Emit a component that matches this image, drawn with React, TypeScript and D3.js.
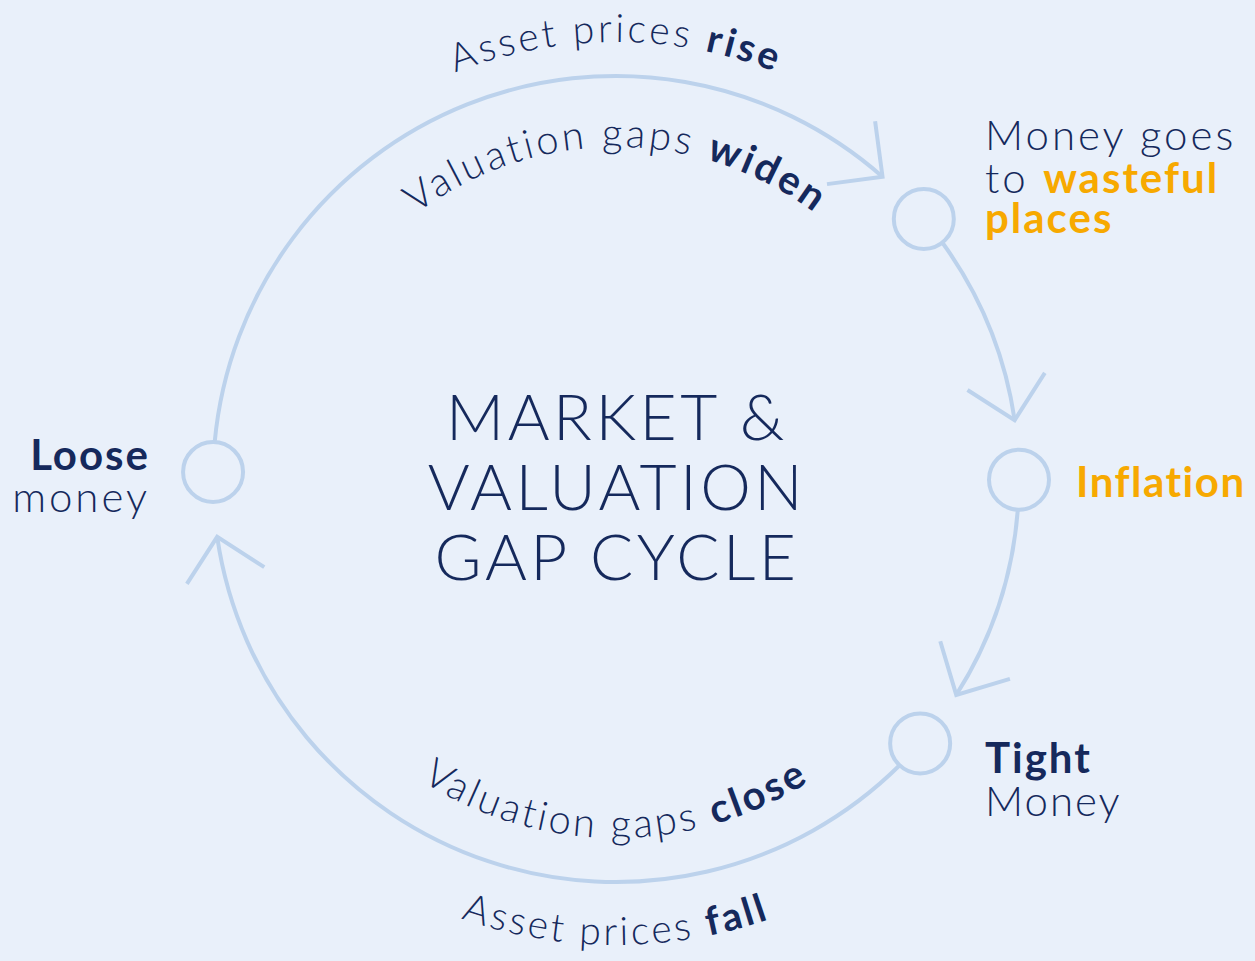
import React from 'react';
import * as d3 from 'd3';

const W = 1255;
const H = 961;

// Cycle geometry
const CX = 616;
const CY = 479;
const R = 403;
const NODE_R = 30;

// Nodes of the cycle (angle: degrees clockwise from 12 o'clock)
const nodeNames = ['Loose money', 'Money goes to wasteful places', 'Inflation', 'Tight Money'];
const nodeAngles = [271, 49.8, 90.1, 131];
// Arrow tip angle of the arc that leaves each node
const arrowTipAngles = [401.4, 81.6, 122.4, 261.75];

// Curved captions
const topOuter = [{ t: 'Asset prices ', b: false }, { t: 'rise', b: true }];
const topInner = [{ t: 'Valuation gaps ', b: false }, { t: 'widen', b: true }];
const bottomInner = [{ t: 'Valuation gaps ', b: false }, { t: 'close', b: true }];
const bottomOuter = [{ t: 'Asset prices ', b: false }, { t: 'fall', b: true }];

const titleLines = ['MARKET &', 'VALUATION', 'GAP CYCLE'];

const BG = '#e9f0fa';
const LINE = '#bcd2ec';
const NAVY = '#15295c';
const ORANGE = '#f7a900';
const FONT = 'Lato, "Open Sans", sans-serif';

const rad = (d: number) => (d * Math.PI) / 180;
const polar = (deg: number, r: number): [number, number] => [
  CX + r * Math.sin(rad(deg)),
  CY - r * Math.cos(rad(deg)),
];

function arcPath(a0: number, a1: number, r: number, ccw = false) {
  const p = d3.path();
  p.arc(CX, CY, r, rad(a0 - 90), rad(a1 - 90), ccw);
  return p.toString();
}

const GAP = (NODE_R / R) * (180 / Math.PI);
const ARM = 56;
const HALF = 45;
const TILT = 4;

function arrowHead(tipDeg: number) {
  const [tx, ty] = polar(tipDeg, R);
  const back = rad(tipDeg) + Math.PI - rad(TILT);
  const a1 = back + rad(HALF);
  const a2 = back - rad(HALF);
  const p = d3.path();
  p.moveTo(tx + ARM * Math.cos(a1), ty + ARM * Math.sin(a1));
  p.lineTo(tx, ty);
  p.lineTo(tx + ARM * Math.cos(a2), ty + ARM * Math.sin(a2));
  return p.toString();
}

function Curved({ id, parts, size, ls }: { id: string; parts: { t: string; b: boolean }[]; size: number; ls: number }) {
  return (
    <text fontFamily={FONT} fontSize={size} fill={NAVY} fontWeight={300} letterSpacing={ls}>
      <textPath href={`#${id}`} startOffset="50%" textAnchor="middle">
        {parts.map((p, i) => (
          <tspan key={i} fontWeight={p.b ? 700 : 300}>
            {p.t}
          </tspan>
        ))}
      </textPath>
    </text>
  );
}

const LS_LIGHT = 3;
const LS_BOLD = 2;

export default function App() {
  const arcs = nodeAngles.map((a, i) => arcPath(a + GAP, arrowTipAngles[i], R));
  return (
    <svg
      width={W}
      height={H}
      viewBox={`0 0 ${W} ${H}`}
      style={{ position: 'absolute', left: 0, top: 0, display: 'block' }}
    >
      <rect x={0} y={0} width={W} height={H} fill={BG} />
      <defs>
        <path id="pTopOuter" d={arcPath(-80, 80, 437)} />
        <path id="pTopInner" d={arcPath(-80, 80, 332)} />
        <path id="pBotInner" d={arcPath(260, 100, 359, true)} />
        <path id="pBotOuter" d={arcPath(260, 100, 466, true)} />
      </defs>

      <g fill="none" stroke={LINE} strokeWidth={4} strokeLinecap="butt" strokeLinejoin="miter">
        {arcs.map((d, i) => (
          <path key={`a${i}`} d={d} />
        ))}
        {arrowTipAngles.map((a, i) => (
          <path key={`h${i}`} d={arrowHead(a)} />
        ))}
        {nodeAngles.map((a, i) => {
          const [x, y] = polar(a, R);
          return <circle key={`n${i}`} cx={x} cy={y} r={NODE_R} aria-label={nodeNames[i]} />;
        })}
      </g>

      <Curved id="pTopOuter" parts={topOuter} size={39} ls={3.2} />
      <Curved id="pTopInner" parts={topInner} size={40} ls={3} />
      <Curved id="pBotInner" parts={bottomInner} size={40} ls={3} />
      <Curved id="pBotOuter" parts={bottomOuter} size={39} ls={3} />

      <g fontFamily={FONT} fill={NAVY} fontWeight={300} fontSize={64} textAnchor="middle">
        {titleLines.map((t, i) => (
          <text key={t} x={617} y={440 + i * 70} letterSpacing={3.5}>
            {t}
          </text>
        ))}
      </g>

      <g fontFamily={FONT} fontSize={42} fill={NAVY}>
        <text x={150} y={470} textAnchor="end" fontWeight={700} letterSpacing={LS_BOLD}>
          Loose
        </text>
        <text x={150} y={512} textAnchor="end" fontWeight={300} letterSpacing={LS_LIGHT}>
          money
        </text>

        <text x={985} y={150} fontWeight={300} letterSpacing={LS_LIGHT}>
          Money goes
        </text>
        <text x={985} y={193} fontWeight={300} letterSpacing={LS_LIGHT}>
          to{' '}
          <tspan fontWeight={700} fill={ORANGE} letterSpacing={LS_BOLD}>
            wasteful
          </tspan>
        </text>
        <text x={985} y={233} fontWeight={700} fill={ORANGE} letterSpacing={LS_BOLD}>
          places
        </text>

        <text x={1076} y={497} fontWeight={700} fill={ORANGE} letterSpacing={LS_BOLD - 0.5}>
          Inflation
        </text>

        <text x={985} y={773} fontWeight={700} letterSpacing={LS_BOLD}>
          Tight
        </text>
        <text x={985} y={816} fontWeight={300} letterSpacing={LS_LIGHT - 1}>
          Money
        </text>
      </g>
    </svg>
  );
}
